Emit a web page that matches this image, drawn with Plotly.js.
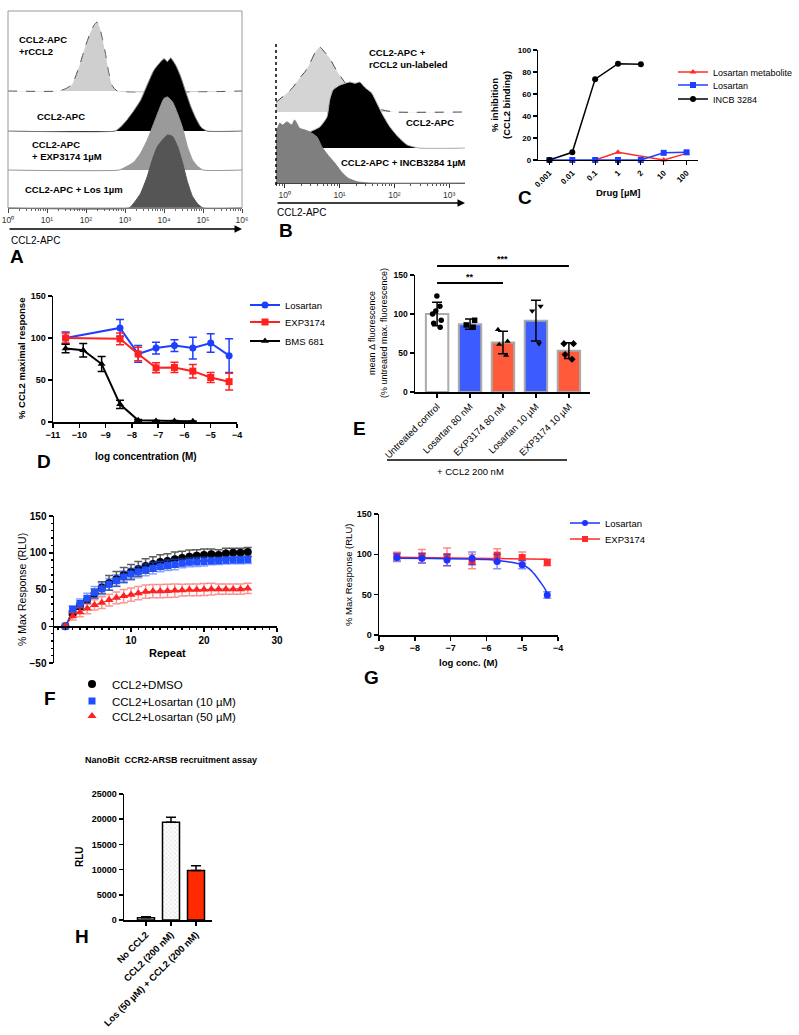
<!DOCTYPE html>
<html><head><meta charset="utf-8">
<script src="https://cdn.plot.ly/plotly-3.0.1.min.js"></script>
<style>html,body{margin:0;padding:0;background:#fff}#chart{width:799px;height:1035px}</style>
</head><body><div id="chart"></div>
<script>
// ---------------- DATA ----------------
// Panel A: flow histograms (x = log10 CCL2-APC, y = % of mode)
const A_rCCL2_log = [0, 1.3, 1.5, 1.65, 1.85, 1.98, 2.1, 2.2, 2.28, 2.35, 2.42, 2.5, 2.58, 2.67, 2.8, 6];
const A_rCCL2_pct = [0, 0, 4, 10, 40, 64, 83, 95, 100, 92, 76, 54, 28, 8, 0, 0];
const A_CCL2_log = [0, 2.75, 2.88, 3.05, 3.23, 3.4, 3.57, 3.74, 3.87, 4.0, 4.09, 4.17, 4.3, 4.43, 4.56, 4.69, 4.82, 4.95, 5.1, 6];
const A_CCL2_pct = [0, 0, 5, 15, 28, 42, 63, 83, 92, 99, 95, 100, 90, 74, 53, 33, 17, 5, 0, 0];
const A_EXP_log = [0, 2.85, 3.05, 3.23, 3.4, 3.57, 3.74, 3.87, 4.0, 4.09, 4.22, 4.35, 4.48, 4.6, 4.73, 4.86, 5.0, 6];
const A_EXP_pct = [0, 0, 5, 11, 23, 41, 64, 82, 98, 100, 93, 77, 57, 32, 14, 5, 0, 0];
const A_Los_log = [0, 3.1, 3.23, 3.4, 3.57, 3.7, 3.83, 3.96, 4.09, 4.22, 4.35, 4.48, 4.6, 4.73, 4.86, 5.0, 6];
const A_Los_pct = [0, 0, 7, 20, 43, 66, 84, 93, 100, 98, 84, 61, 36, 16, 6, 0, 0];
const A_decades = [0, 1, 2, 3, 4, 5, 6];

// Panel B: flow histograms
const B_rCCL2_log = [-0.16, 0.04, 0.15, 0.27, 0.37, 0.46, 0.55, 0.64, 0.73, 0.82, 0.91, 1.0, 1.1, 1.19, 1.37, 1.55, 1.68, 1.79, 2.0, 3.29];
const B_rCCL2_pct = [15, 29, 38, 52, 62, 75, 91, 100, 92, 83, 69, 57, 45, 31, 18, 11, 6, 3, 0, 0];
const B_CCL2_log = [-0.16, 0.09, 0.42, 0.64, 0.77, 0.82, 0.88, 1.0, 1.19, 1.28, 1.37, 1.46, 1.59, 1.7, 1.79, 1.92, 2.07, 2.23, 2.45, 3.29];
const B_CCL2_pct = [0, 5, 23, 32, 47, 73, 88, 95, 100, 98, 100, 92, 83, 65, 50, 32, 17, 5, 0, 0];
const B_INCB_log = [-0.16, -0.09, -0.04, 0.04, 0.13, 0.18, 0.27, 0.37, 0.46, 0.59, 0.68, 0.79, 0.91, 1.04, 1.15, 1.32, 1.55, 3.29];
const B_INCB_pct = [79, 95, 92, 97, 92, 100, 87, 84, 81, 73, 57, 44, 32, 17, 8, 2, 0, 0];
const B_decades = [0, 1, 2, 3];

// Panel C
const C_drug = ['0.001', '0.01', '0.1', '1', '2', '10', '100'];
const C_metabolite = [null, null, 0, 7, null, 0, 6];
const C_losartan = [0, 0, 0, 0, 0, 6.5, 7];
const C_incb = [0, 7, 73.5, 87.5, 87, null, null];

// Panel D
const D_logConc = [-10.52, -9.85, -9.15, -8.45, -7.76, -7.08, -6.38, -5.68, -5.0, -4.3];
const D_los = [100, null, null, 112, 81, 88, 91, 88, 94, 79];
const D_los_sd = [7, null, null, 10, 10, 7, 7, 13, 11, 20];
const D_exp = [100, null, null, 99, 81, 64.5, 65, 60.5, 53, 48];
const D_exp_sd = [6, null, null, 7, 8, 6, 6, 8, 6, 10];
const D_bms = [87.5, 85.5, 69, 21, 2, 1.2, 1.2, 0.8, null, null];
const D_bms_sd = [5, 8, 9, 5, 1, 0.5, 0.5, 0.5, null, null];

// Panel E
const E_groups = ['Untreated control', 'Losartan 80 nM', 'EXP3174 80 nM', 'Losartan 10 µM', 'EXP3174 10 µM'];
const E_mean = [100, 87, 63.5, 91.5, 53];
const E_sd = [15, 6.5, 14.5, 26, 10];
const E_pts_untreated = [123, 110, 104, 100, 92, 83, 88];
const E_pts_los80 = [92, 86, 83];
const E_pts_exp80 = [80, 65, 61, 47];
const E_pts_los10 = [110, 104, 62];
const E_pts_exp10 = [62, 62, 48, 42];

// Panel F
const F_repeat = [1, 2, 3, 4, 5, 6, 7, 8, 9, 10, 11, 12, 13, 14, 15, 16, 17, 18, 19, 20, 21, 22, 23, 24, 25, 26];
const F_dmso = [0, 18, 27, 36, 44.6, 52.7, 59, 64.4, 70, 74, 78, 82, 84.7, 87.4, 88.7, 91, 93, 94.6, 96, 97, 98, 97, 99, 100, 100, 101];
const F_dmso_sd = [0, 3, 4, 5, 6, 8, 10, 10, 10, 10, 10, 10, 10, 10, 10, 10, 9, 9, 8, 8, 7, 7, 7, 6, 6, 6];
const F_los10 = [0, 23, 31, 38, 46, 51, 57, 62, 67, 71, 74, 76.6, 79, 81, 83, 84, 85.6, 87, 87.4, 88, 88.7, 89, 89.6, 90, 90, 90.5];
const F_los10_sd = [0, 5, 6, 7, 8, 8, 8, 8, 8, 8, 8, 8, 8, 7, 7, 7, 6, 6, 6, 6, 5, 5, 5, 5, 5, 5];
const F_los50 = [0, 13.5, 19, 24, 29, 32, 35.6, 38.7, 41, 43, 45, 47, 47.7, 47.7, 48, 48.6, 49, 49.5, 49.5, 50, 50.5, 50.5, 50.5, 50.5, 50.5, 51.4];
const F_los50_sd = [0, 5, 6, 7, 7, 8, 8, 8, 9, 9, 9, 9, 9, 9, 9, 9, 8, 8, 8, 8, 8, 7, 7, 7, 7, 7];

// Panel G
const G_logConc = [-8.5, -7.8, -7.1, -6.4, -5.7, -5.0, -4.3];
const G_los = [96, 95, 93, 95, 91, 87, 49.5];
const G_los_sd = [5, 6, 7, 8, 9, 5, 4];
const G_exp = [97.5, 98, 97, 91, 99, 96, 90];
const G_exp_sd = [5, 8, 11, 9, 8, 7, 4];
const G_los_fit_x = [-8.5, -7.5, -6.5, -6.0, -5.7, -5.4, -5.0, -4.8, -4.68, -4.5, -4.35, -4.3];
const G_los_fit_y = [95, 94.8, 94.3, 93.6, 92.5, 90.8, 87, 82, 76.5, 66, 56, 50];
const G_exp_fit_x = [-8.5, -4.3];
const G_exp_fit_y = [96.5, 94];

// Panel H
const H_groups = ['No CCL2', 'CCL2 (200 nM)', 'Los (50 µM) + CCL2 (200 nM)'];
const H_rlu = [450, 19400, 9800];
const H_sem = [200, 1000, 950];

// ---------------- LAYOUT HELPERS ----------------
const W = 799, H = 1035;
const FONT = 'Liberation Sans, Arial, Helvetica, sans-serif';
const fx = p => p / W;
const fy = p => 1 - p / H;
const dX = (a, b) => [fx(a), fx(b)];
const dY = (top, bottom) => [fy(bottom), fy(top)];
const SUP = ['⁰', '¹', '²', '³', '⁴', '⁵', '⁶'];
const sup = d => '10' + SUP[d];

function rowAxis(baseline, peak, anchor) {
  const ppu = peak / 100;
  return { domain: [fy(baseline + 2 * ppu), fy(baseline - 102 * ppu)], range: [-2, 102], visible: false, fixedrange: true, anchor };
}
function gp(o) {
  return Object.assign({
    showgrid: false, zeroline: false, showline: true, linecolor: '#000', linewidth: 1.5,
    ticks: 'outside', ticklen: 4, tickwidth: 1.5, tickcolor: '#000',
    tickfont: { size: 9, weight: 'bold', color: '#000' }, fixedrange: true, automargin: false
  }, o);
}
function minorLog(lo, hi) {
  const v = [];
  for (let d = lo; d < hi; d++) for (let k = 2; k <= 9; k++) v.push(d + Math.log10(k));
  return v;
}
function hist(xs, ys, xa, ya, fill, line, dash) {
  return { type: 'scatter', mode: 'lines', x: xs, y: ys, xaxis: xa, yaxis: ya, fill: 'tozeroy', fillcolor: fill,
    line: { color: line, width: 1, dash: dash || 'solid', shape: 'spline', smoothing: 0.5 }, showlegend: false, hoverinfo: 'skip' };
}

// ---------------- TRACES ----------------
const traces = [];
// A
traces.push(hist(A_rCCL2_log, A_rCCL2_pct, 'x', 'y', '#cfcfcf', '#555', 'dash'));
traces.push(hist(A_CCL2_log, A_CCL2_pct, 'x', 'y2', '#000', '#777'));
traces.push(hist(A_EXP_log, A_EXP_pct, 'x', 'y3', '#9a9a9a', '#999'));
traces.push(hist(A_Los_log, A_Los_pct, 'x', 'y4', '#555', '#555'));
// B
traces.push(hist(B_rCCL2_log, B_rCCL2_pct, 'x2', 'y5', '#d4d4d4', '#444', 'dash'));
traces.push(hist(B_CCL2_log, B_CCL2_pct, 'x2', 'y6', '#000', '#bbb'));
traces.push(hist(B_INCB_log, B_INCB_pct, 'x2', 'y7', '#7f7f7f', '#7f7f7f'));

// C
const cLine = (name, y, color, symbol, lg) => ({ type: 'scatter', mode: 'lines+markers', name, x: C_drug, y, xaxis: 'x3', yaxis: 'y8',
  connectgaps: true, line: { color, width: 1.5 }, marker: { color, symbol, size: 6 }, cliponaxis: false, legend: lg });
traces.push(cLine('Losartan metabolite', C_metabolite, '#ff2a2a', 'triangle-up', 'legend'));
traces.push(cLine('Losartan', C_losartan, '#1f3fff', 'square', 'legend2'));
traces.push(cLine('INCB 3284', C_incb, '#000', 'circle', 'legend3'));

// D
const dLine = (name, y, sd, color, symbol, lg) => ({ type: 'scatter', mode: 'lines+markers', name, x: D_logConc, y, xaxis: 'x4', yaxis: 'y9',
  connectgaps: true, line: { color, width: 2 }, marker: { color, symbol, size: 7 }, cliponaxis: false, legend: lg,
  error_y: { type: 'data', array: sd, color, thickness: 1.5, width: 4 } });
traces.push(dLine('Losartan', D_los, D_los_sd, '#1f3fff', 'circle', 'legend4'));
traces.push(dLine('EXP3174', D_exp, D_exp_sd, '#ff2020', 'square', 'legend5'));
traces.push(dLine('BMS 681', D_bms, D_bms_sd, '#000', 'triangle-up', 'legend6'));

// E
traces.push({ type: 'bar', x: E_groups, y: E_mean, xaxis: 'x5', yaxis: 'y10', width: 0.68, showlegend: false,
  marker: { color: ['#ffffff', '#3d5cff', '#ff5a3a', '#3d5cff', '#ff5a3a'], line: { color: '#ababab', width: 2 } },
  error_y: { type: 'data', array: E_sd, color: '#000', thickness: 1.5, width: 5 } });
const ePts = [[E_pts_untreated, 'circle'], [E_pts_los80, 'square'], [E_pts_exp80, 'triangle-up'], [E_pts_los10, 'triangle-down'], [E_pts_exp10, 'diamond']];
ePts.forEach(([pts, sym], i) => {
  traces.push({ type: 'box', x: pts.map(() => E_groups[i]), y: pts, xaxis: 'x5', yaxis: 'y10', boxpoints: 'all', jitter: 0.8, pointpos: 0,
    width: 0.45, fillcolor: 'rgba(0,0,0,0)', line: { width: 0, color: 'rgba(0,0,0,0)' }, whiskerwidth: 0,
    marker: { symbol: sym, size: 5.5, color: '#000' }, showlegend: false, hoverinfo: 'skip' });
});

// F
const fSeries = [
  ['CCL2+DMSO', F_dmso, F_dmso_sd, '#000', 'rgba(40,40,40,0.75)', 'circle', 8, 'legend7'],
  ['CCL2+Losartan (10 µM)', F_los10, F_los10_sd, '#1f4fff', 'rgba(40,90,255,0.55)', 'square', 7, 'legend8'],
  ['CCL2+Losartan (50 µM)', F_los50, F_los50_sd, '#ff2020', 'rgba(255,60,60,0.55)', 'triangle-up', 8, 'legend9']
];
fSeries.forEach(([name, y, sd, c]) => {
  traces.push({ type: 'scatter', mode: 'lines', x: F_repeat, y, xaxis: 'x6', yaxis: 'y11', line: { color: c, width: 1 }, showlegend: false, hoverinfo: 'skip' });
});
fSeries.forEach(([name, y, sd, c, ec, sym, sz, lg]) => {
  traces.push({ type: 'scatter', mode: 'markers', name, x: F_repeat, y, xaxis: 'x6', yaxis: 'y11', legend: lg,
    marker: { color: c, symbol: sym, size: sz }, cliponaxis: false,
    error_y: { type: 'data', array: sd, color: ec, thickness: 1.5, width: 4 } });
});

// G
traces.push({ type: 'scatter', mode: 'lines', x: G_exp_fit_x, y: G_exp_fit_y, xaxis: 'x7', yaxis: 'y12', line: { color: '#ff2a2a', width: 1.5 }, showlegend: false });
traces.push({ type: 'scatter', mode: 'lines', x: G_los_fit_x, y: G_los_fit_y, xaxis: 'x7', yaxis: 'y12', line: { color: '#1a35ff', width: 1.5, shape: 'spline' }, showlegend: false });
traces.push({ type: 'scatter', mode: 'markers', x: G_logConc, y: G_exp, xaxis: 'x7', yaxis: 'y12', showlegend: false,
  marker: { color: '#ff2a2a', symbol: 'square', size: 7 }, error_y: { type: 'data', array: G_exp_sd, color: 'rgba(255,42,42,0.55)', thickness: 1.5, width: 4 } });
traces.push({ type: 'scatter', mode: 'markers', x: G_logConc, y: G_los, xaxis: 'x7', yaxis: 'y12', showlegend: false,
  marker: { color: '#1a35ff', symbol: 'circle', size: 7 }, error_y: { type: 'data', array: G_los_sd, color: 'rgba(26,53,255,0.55)', thickness: 1.5, width: 4 } });
traces.push({ type: 'scatter', mode: 'lines+markers', name: 'Losartan', x: [null], y: [null], xaxis: 'x7', yaxis: 'y12', legend: 'legend10',
  line: { color: '#1a35ff', width: 1.5 }, marker: { color: '#1a35ff', symbol: 'circle', size: 6 } });
traces.push({ type: 'scatter', mode: 'lines+markers', name: 'EXP3174', x: [null], y: [null], xaxis: 'x7', yaxis: 'y12', legend: 'legend11',
  line: { color: '#ff2a2a', width: 1.5 }, marker: { color: '#ff2a2a', symbol: 'square', size: 6 } });

// H
traces.push({ type: 'bar', x: H_groups, y: H_rlu, xaxis: 'x8', yaxis: 'y13', width: 0.68, showlegend: false,
  marker: { color: ['#ffffff', '#dcdcdc', '#ff2a00'], line: { color: '#000', width: 1.5 },
    pattern: { shape: ['', 'x', ''], size: 3, solidity: 0.35, fgcolor: '#777', bgcolor: '#e4e4e4' } },
  error_y: { type: 'data', symmetric: false, array: H_sem, arrayminus: H_sem.map(() => 0), color: '#000', thickness: 1.5, width: 5 } });

// ---------------- AXES ----------------
const layout = {
  width: W, height: H, margin: { l: 0, r: 0, t: 0, b: 0 },
  paper_bgcolor: '#fff', plot_bgcolor: 'rgba(0,0,0,0)',
  font: { family: FONT, color: '#000', size: 9 },
  showlegend: true, hovermode: false,

  // A
  xaxis: gp({ domain: dX(8, 242), range: [0, 6], anchor: 'free', position: fy(208), linecolor: '#666', linewidth: 1,
    tickmode: 'array', tickvals: A_decades, ticktext: A_decades.map(sup), tickcolor: '#444', tickwidth: 1, ticklen: 4,
    tickfont: { size: 8.5, color: '#333' }, minor: { tickvals: minorLog(0, 6), ticklen: 2, tickcolor: '#666', ticks: 'outside' } }),
  yaxis: rowAxis(91, 69, 'x'),
  yaxis2: rowAxis(131, 73, 'x'),
  yaxis3: rowAxis(170, 73, 'x'),
  yaxis4: rowAxis(208, 73, 'x'),

  // B
  xaxis2: gp({ domain: dX(276, 465), range: [-0.16, 3.29], anchor: 'free', position: fy(183), linecolor: '#444', linewidth: 1,
    tickmode: 'array', tickvals: B_decades, ticktext: B_decades.map(sup), tickcolor: '#333', tickwidth: 1, ticklen: 4,
    tickfont: { size: 8.5, color: '#333' }, minor: { tickvals: minorLog(-1, 4).filter(v => v > -0.16 && v < 3.29), ticklen: 2, tickcolor: '#555', ticks: 'outside' } }),
  yaxis5: rowAxis(112, 65, 'x2'),
  yaxis6: rowAxis(148, 66, 'x2'),
  yaxis7: rowAxis(183, 63, 'x2'),

  // C
  xaxis3: gp({ domain: dX(538, 698), type: 'category', range: [-0.5, 6.5], anchor: 'y8', tickangle: -45, tickfont: { size: 8, weight: 'bold' }, linewidth: 1.2, tickwidth: 1.2 }),
  yaxis8: gp({ domain: dY(50, 160), range: [0, 100], dtick: 20, anchor: 'x3', tickfont: { size: 8, weight: 'bold' }, linewidth: 1.2, tickwidth: 1.2 }),

  // D
  xaxis4: gp({ domain: dX(53, 237), range: [-11, -4], dtick: 1, anchor: 'y9' }),
  yaxis9: gp({ domain: dY(296, 422), range: [0, 150], dtick: 50, anchor: 'x4' }),

  // E
  xaxis5: gp({ domain: dX(415, 590), type: 'category', range: [-0.67, 4.64], anchor: 'y10', tickangle: -45, tickfont: { size: 9.5, color: '#000' } }),
  yaxis10: gp({ domain: dY(275, 392), range: [0, 150], dtick: 50, anchor: 'x5', tickfont: { size: 8.5, weight: 'bold' } }),

  // F
  xaxis6: gp({ domain: dX(54, 277), range: [-0.55, 30], tickvals: [10, 20, 30], anchor: 'free', position: fy(626),
    tickfont: { size: 10, weight: 'bold' }, minor: { dtick: 1, ticklen: 2, ticks: 'outside', tickcolor: '#000' } }),
  yaxis11: gp({ domain: dY(516, 663), range: [-50, 150], dtick: 50, anchor: 'x6', tickfont: { size: 10, weight: 'bold' },
    minor: { dtick: 10, ticklen: 2, ticks: 'outside', tickcolor: '#000' } }),

  // G
  xaxis7: gp({ domain: dX(379, 558), range: [-9, -4], dtick: 1, anchor: 'y12' }),
  yaxis12: gp({ domain: dY(514, 635), range: [0, 150], dtick: 50, anchor: 'x7' }),

  // H
  xaxis8: gp({ domain: dX(124, 212), type: 'category', range: [-0.88, 2.64], anchor: 'y13', tickangle: -45, tickfont: { size: 9.5, weight: 'bold' } }),
  yaxis13: gp({ domain: dY(794, 920), range: [0, 25000], dtick: 5000, tickformat: 'd', anchor: 'x8', tickfont: { size: 9, weight: 'bold' } }),

  bargap: 0.3,
  shapes: [
    { type: 'rect', xref: 'paper', yref: 'paper', x0: fx(8), x1: fx(242), y0: fy(208), y1: fy(11), line: { color: '#9a9a9a', width: 1 } },
    { type: 'line', xref: 'paper', yref: 'paper', x0: fx(276), x1: fx(276), y0: fy(185), y1: fy(42), line: { color: '#000', width: 1.5, dash: 'dot' } },
    { type: 'line', xref: 'x5', yref: 'paper', x0: E_groups[0], x1: E_groups[4], y0: fy(266), y1: fy(266), line: { color: '#000', width: 2 } },
    { type: 'line', xref: 'x5', yref: 'paper', x0: E_groups[0], x1: E_groups[2], y0: fy(283), y1: fy(283), line: { color: '#000', width: 2 } },
    { type: 'line', xref: 'paper', yref: 'paper', x0: fx(387), x1: fx(567), y0: fy(460), y1: fy(460), line: { color: '#000', width: 1.5 } }
  ]
};

// one legend per series row, so each row sits where the reference puts it
const legendRows = {
  legend: [673, 72, 9], legend2: [673, 85, 9], legend3: [673, 99, 9],
  legend4: [245, 305, 9.5], legend5: [245, 322, 9.5], legend6: [245, 341, 9.5],
  legend7: [72, 684, 11.5], legend8: [72, 701, 11.5], legend9: [72, 716, 11.5],
  legend10: [565, 523, 9.5], legend11: [565, 539, 9.5]
};
Object.keys(legendRows).forEach(k => {
  const [x, y, s] = legendRows[k];
  layout[k] = { x: fx(x), y: fy(y), xanchor: 'left', yanchor: 'middle', font: { size: s, family: FONT, color: '#000' },
    bgcolor: 'rgba(0,0,0,0)', borderwidth: 0, itemwidth: 30, tracegroupgap: 0 };
});

function txt(text, x, y, o) {
  return Object.assign({ text, x: fx(x), y: fy(y), xref: 'paper', yref: 'paper', showarrow: false, xanchor: 'center', yanchor: 'middle',
    font: { size: 9, family: FONT, color: '#000' } }, o || {});
}
const bold = (s) => ({ size: s, weight: 'bold', family: FONT, color: '#000' });
const norm = (s) => ({ size: s, family: FONT, color: '#000' });

layout.annotations = [
  // A texts
  txt('CCL2-APC<br>+rCCL2', 17, 46, { xanchor: 'left', align: 'left', font: bold(9.5) }),
  txt('CCL2-APC', 35, 116, { xanchor: 'left', font: bold(9.5) }),
  txt('CCL2-APC<br>+ EXP3174 1µM', 30, 151, { xanchor: 'left', align: 'left', font: bold(9.5) }),
  txt('CCL2-APC + Los 1µm', 23, 189, { xanchor: 'left', font: bold(9.5) }),
  { text: '', x: fx(242), y: fy(229), xref: 'paper', yref: 'paper', showarrow: true, ax: -234, ay: 0, arrowhead: 2, arrowsize: 1, arrowwidth: 1.5, arrowcolor: '#000' },
  txt('CCL2-APC', 9, 240, { xanchor: 'left', font: norm(10) }),
  txt('A', 8, 257, { xanchor: 'left', font: bold(19) }),
  // B texts
  txt('CCL2-APC +<br>rCCL2 un-labeled', 367, 59, { xanchor: 'left', align: 'left', font: bold(9.5) }),
  txt('CCL2-APC', 404, 122, { xanchor: 'left', font: bold(9.5) }),
  txt('CCL2-APC + INCB3284 1µM', 339, 163, { xanchor: 'left', font: bold(9.5) }),
  { text: '', x: fx(465), y: fy(203), xref: 'paper', yref: 'paper', showarrow: true, ax: -189, ay: 0, arrowhead: 2, arrowsize: 1, arrowwidth: 1.5, arrowcolor: '#000' },
  txt('CCL2-APC', 275, 213, { xanchor: 'left', font: norm(10) }),
  txt('B', 277, 230, { xanchor: 'left', font: bold(19) }),
  // C
  txt('% inhibition<br>(CCL2 binding)', 500, 105, { textangle: -90, font: bold(9.5) }),
  txt('Drug [µM]', 618, 193, { font: bold(9.5) }),
  txt('C', 516, 197, { xanchor: 'left', font: bold(19) }),
  // D
  txt('% CCL2 maximal response', 21, 359, { textangle: -90, font: bold(9.5) }),
  txt('log concentration (M)', 146, 456, { font: bold(10) }),
  txt('D', 35, 461, { xanchor: 'left', font: bold(19) }),
  // E
  txt('mean Δ fluorescence<br>(% untreated max. fluorescence)', 378, 333, { textangle: -90, font: norm(9) }),
  txt('***', 2, 259, { xref: 'x5', x: 2, font: bold(9) }),
  txt('**', 1, 277, { xref: 'x5', x: 1, font: bold(9) }),
  txt('+ CCL2 200 nM', 470, 471, { font: norm(9.5) }),
  txt('E', 351, 428, { xanchor: 'left', font: bold(19) }),
  // F
  txt('% Max Response (RLU)', 22, 590, { textangle: -90, font: norm(10.5) }),
  txt('Repeat', 167, 653, { font: bold(11) }),
  txt('F', 42, 698, { xanchor: 'left', font: bold(19) }),
  // G
  txt('% Max Response (RLU)', 348, 575, { textangle: -90, font: norm(9.5) }),
  txt('log conc. (M)', 468, 662, { font: bold(9.5) }),
  txt('G', 362, 677, { xanchor: 'left', font: bold(19) }),
  // H
  txt('NanoBit\u00a0 CCR2-ARSB recruitment assay', 171, 760, { font: bold(9) }),
  txt('RLU', 79, 857, { textangle: -90, font: bold(10) }),
  txt('H', 73, 936, { xanchor: 'left', font: bold(19) })
];

Plotly.newPlot('chart', traces, layout, { staticPlot: true, displayModeBar: false });
</script>
</body></html>
